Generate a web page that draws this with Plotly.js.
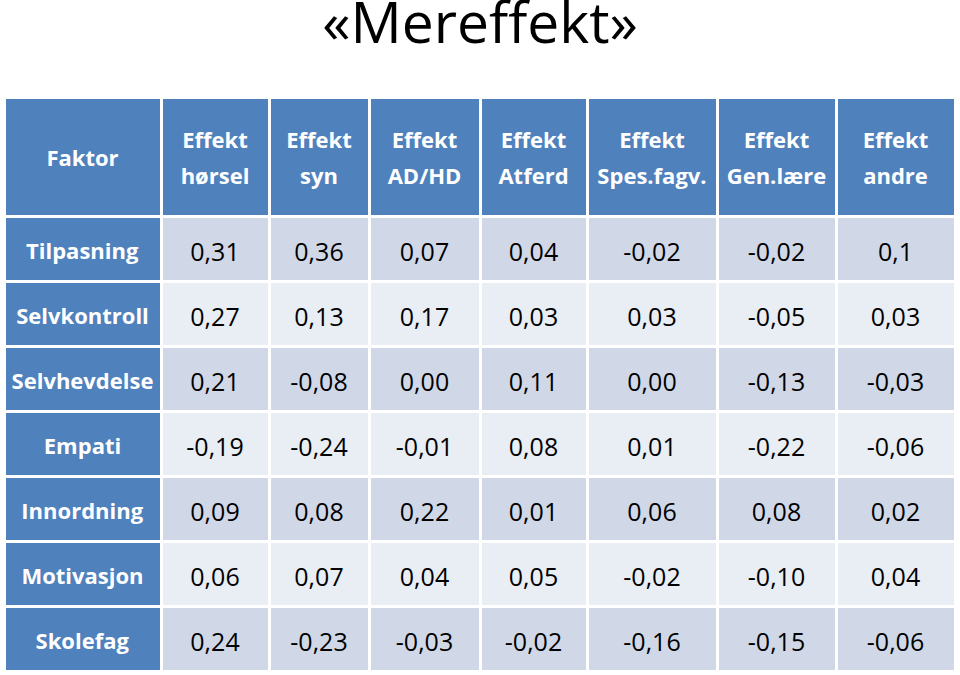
<!DOCTYPE html>
<html>
<head>
<meta charset="utf-8">
<script src="https://cdn.plot.ly/plotly-3.0.1.min.js"></script>
<style>html,body{margin:0;padding:0;background:#fff;overflow:hidden;}#chart{width:960px;height:700px;}</style>
</head>
<body>
<div id="chart"></div>
<script>
const titleText = "«Mereffekt»";
const firstHeader = "Faktor";
const headerLine1 = ["Effekt", "Effekt", "Effekt", "Effekt", "Effekt", "Effekt", "Effekt"];
const headerLine2 = ["hørsel", "syn", "AD/HD", "Atferd", "Spes.fagv.", "Gen.lære", "andre"];
const factors = ["Tilpasning", "Selvkontroll", "Selvhevdelse", "Empati", "Innordning", "Motivasjon", "Skolefag"];
const hoersel = ["0,31", "0,27", "0,21", "-0,19", "0,09", "0,06", "0,24"];
const syn = ["0,36", "0,13", "-0,08", "-0,24", "0,08", "0,07", "-0,23"];
const adhd = ["0,07", "0,17", "0,00", "-0,01", "0,22", "0,04", "-0,03"];
const atferd = ["0,04", "0,03", "0,11", "0,08", "0,01", "0,05", "-0,02"];
const spesfagv = ["-0,02", "0,03", "0,00", "0,01", "0,06", "-0,02", "-0,16"];
const genlaere = ["-0,02", "-0,05", "-0,13", "-0,22", "0,08", "-0,10", "-0,15"];
const andre = ["0,1", "0,03", "-0,03", "-0,06", "0,02", "0,04", "-0,06"];

const dataCols = [hoersel, syn, adhd, atferd, spesfagv, genlaere, andre];

const H = 700;
const FONT = "'Open Sans', 'Noto Sans', sans-serif";
const blue = "#4F81BD";
const dark = "#D0D8E8";
const light = "#E9EDF4";
const clear = "rgba(0,0,0,0)";
const colW = [157, 108, 100, 111, 107, 130, 119, 119];
const xDom = [4 / 960, 955 / 960];
const dom = (topPx, bottomPx) => [1 - bottomPx / H, 1 - topPx / H];
const nCols = dataCols.length + 1;
const blanks = n => Array.from({length: n}, () => "");
const blankCol = () => factors.map(() => "");

const rowColors = factors.map((_, i) => (i % 2 === 0 ? dark : light));
const fillColors = [factors.map(() => blue)].concat(dataCols.map(() => rowColors));

const noFill = {fill: {color: clear}, line: {color: clear, width: 0}};

// Background grid: fills and white borders
const bg = {
  type: "table",
  domain: {x: xDom, y: dom(97, 690)},
  columnwidth: colW,
  header: {
    values: blanks(nCols),
    height: 119,
    fill: {color: blue},
    line: {color: "white", width: 3},
    font: {size: 10}
  },
  cells: {
    values: [blankCol()].concat(dataCols.map(() => blankCol())),
    height: 65,
    fill: {color: fillColors},
    line: {color: "white", width: 3},
    font: {size: 10}
  }
};

function headerLayer(lineTexts, topPx) {
  return {
    type: "table",
    domain: {x: xDom, y: dom(topPx, topPx + 80)},
    columnwidth: colW,
    header: Object.assign({
      values: [""].concat(lineTexts).map(t => t ? "<b>" + t + "</b>" : ""),
      align: "center",
      height: 40,
      font: {family: FONT, size: 22, color: "white"}
    }, noFill),
    cells: Object.assign({
      values: blanks(nCols).map(() => [""]),
      height: 20,
      font: {size: 10}
    }, noFill)
  };
}

const line1 = headerLayer(headerLine1, 116);
const line2 = headerLayer(headerLine2, 152);

// First column: "Faktor" and row labels
const labelLayer = {
  type: "table",
  domain: {x: xDom, y: dom(134, 700)},
  columnwidth: colW,
  header: Object.assign({
    values: ["<b>" + firstHeader + "</b>"].concat(blanks(nCols - 1)),
    align: "center",
    height: 93,
    font: {family: FONT, size: 22, color: "white"}
  }, noFill),
  cells: Object.assign({
    values: [factors.map(f => "<b>" + f + "</b>")].concat(dataCols.map(() => blankCol())),
    align: "center",
    height: 65,
    font: {family: FONT, size: 22, color: "white"}
  }, noFill)
};

// Numeric cells
const dataLayer = {
  type: "table",
  domain: {x: xDom, y: dom(134, 700)},
  columnwidth: colW,
  header: Object.assign({
    values: blanks(nCols),
    height: 100,
    font: {size: 10}
  }, noFill),
  cells: Object.assign({
    values: [blankCol()].concat(dataCols),
    align: "center",
    height: 65,
    font: {family: FONT, size: 25, color: "black"}
  }, noFill)
};

const layout = {
  width: 960,
  height: H,
  margin: {l: 0, r: 0, t: 0, b: 0},
  paper_bgcolor: "white",
  title: {
    text: titleText,
    x: 0.5,
    xanchor: "center",
    y: 1 - 23 / H,
    yanchor: "middle",
    yref: "container",
    font: {family: FONT, size: 57, color: "black"}
  }
};

Plotly.newPlot("chart", [bg, line1, line2, labelLayer, dataLayer], layout, {displayModeBar: false, staticPlot: true});
</script>
</body>
</html>
